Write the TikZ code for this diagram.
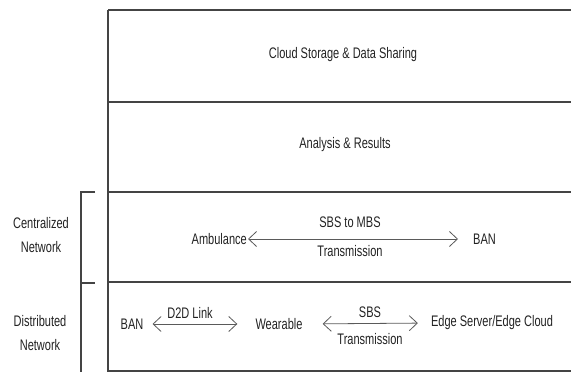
\documentclass[tikz,border=0pt]{standalone}
\usepackage{fontspec}
\setmainfont[FakeStretch=0.72]{Liberation Sans}
\usetikzlibrary{arrows.meta}
\definecolor{linegray}{HTML}{444444}
\definecolor{arrgray}{HTML}{5A5A5A}
\definecolor{txt}{HTML}{222222}
\tikzset{
  rowline/.style={draw=linegray, line width=1.3pt},
  brack/.style={draw=linegray, line width=1.1pt},
  lbl/.style={font=\fontsize{15.3}{24.5}\selectfont, text=txt, inner sep=0pt, align=center},
  arr/.style={draw=arrgray, line width=0.8pt, {Straight Barb[length=8pt,width=15pt]}-{Straight Barb[length=8pt,width=15pt]}}
}
\begin{document}
\begin{tikzpicture}[x=1pt,y=-1pt]
\useasboundingbox (0,0) rectangle (571,372);
% frame
\draw[rowline] (108,10) -- (571,10);
\draw[rowline] (108,102) -- (571,102);
\draw[rowline] (108,192) -- (571,192);
\draw[rowline] (108,282) -- (571,282);
\draw[rowline] (108,371) -- (571,371);
\draw[rowline] (108,10) -- (108,372);
% bracket
\draw[brack] (95,192) -- (81,192) -- (81,372);
\draw[brack] (81,283) -- (95,283);
% side labels
\node[lbl] (cent) at (41,235) {Centralized\\Network};
\node[lbl] (dist) at (40,333) {Distributed\\Network};
% top rows
\node[lbl] (cloud) at (343,55) {Cloud Storage \& Data Sharing};
\node[lbl] (anal) at (345,145) {Analysis \& Results};
% centralized row
\node[lbl, anchor=east] (amb) at (247,239) {Ambulance};
\node[lbl, anchor=west] (ban1) at (473,239) {BAN};
\node[lbl] (sbsmbs) at (350,222) {SBS to MBS};
\node[lbl] (trans1) at (350,251) {Transmission};
\draw[arr, shorten <=1pt, shorten >=15pt] (amb.east) -- (ban1.west);
% distributed row
\node[lbl] (ban2) at (132,324) {BAN};
\node[lbl] (wear) at (279,324) {Wearable};
\node[lbl] (edge) at (492,323) {Edge Server/Edge Cloud};
\node[lbl] (d2d) at (190,313) {D2D Link};
\node[lbl] (sbs) at (370,312.5) {SBS};
\node[lbl] (trans2) at (370,339) {Transmission};
\draw[arr, shorten <=9pt, shorten >=18pt] (ban2.east) -- (wear.west);
\draw[arr, shorten <=20pt, shorten >=13pt] (wear.east) -- (edge.west);
\end{tikzpicture}
\end{document}
